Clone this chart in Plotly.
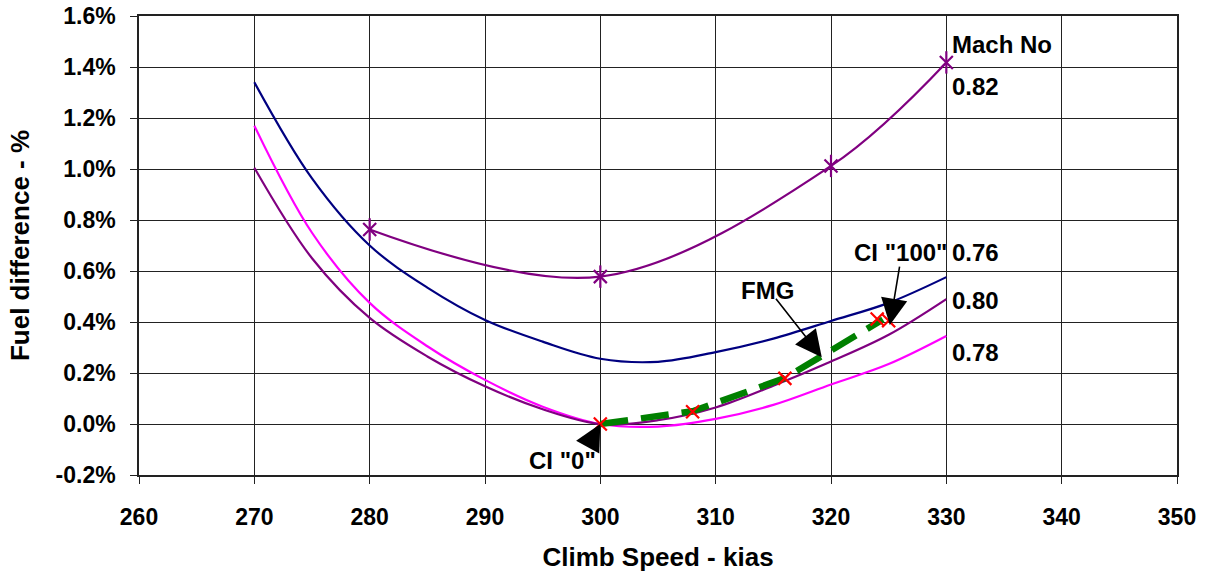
import plotly.graph_objects as go

# ---- data ----
speed = [270, 275, 280, 285, 290, 295, 300, 305, 310, 315, 320, 325, 330]
mach_076 = [1.34, 0.963, 0.70, 0.535, 0.408, 0.323, 0.256, 0.244, 0.282, 0.335, 0.404, 0.475, 0.576]
mach_078 = [1.17, 0.75, 0.475, 0.305, 0.173, 0.068, 0.0, -0.01, 0.02, 0.075, 0.155, 0.235, 0.345]
mach_080 = [1.005, 0.65, 0.416, 0.265, 0.148, 0.058, 0.0, 0.015, 0.065, 0.15, 0.245, 0.35, 0.49]

speed_082 = [280, 300, 320, 330]
mach_082 = [0.763, 0.578, 1.012, 1.418]

fmg_speed = [300, 308, 316, 324.5]
fmg_fuel = [0.0, 0.05, 0.18, 0.41]

ci_speed = [300, 308, 316, 324, 325]
ci_fuel = [0.0, 0.048, 0.179, 0.412, 0.405]

x_ticks = [260, 270, 280, 290, 300, 310, 320, 330, 340, 350]
y_ticks = [-0.2, 0.0, 0.2, 0.4, 0.6, 0.8, 1.0, 1.2, 1.4, 1.6]
y_tick_text = ["-0.2%", "0.0%", "0.2%", "0.4%", "0.6%", "0.8%", "1.0%", "1.2%", "1.4%", "1.6%"]

FONT = "Arial, Liberation Sans, sans-serif"
NAVY, MAGENTA, PURPLE, GREEN, RED = "#000080", "#FF00FF", "#800080", "#008000", "#FF0000"

fig = go.Figure()

fig.add_trace(go.Scatter(x=speed, y=mach_076, mode="lines",
                         line=dict(color=NAVY, width=2.2, shape="spline", smoothing=1.0)))
fig.add_trace(go.Scatter(x=speed, y=mach_078, mode="lines",
                         line=dict(color=MAGENTA, width=2.2, shape="spline", smoothing=1.0)))
fig.add_trace(go.Scatter(x=speed, y=mach_080, mode="lines",
                         line=dict(color=PURPLE, width=2.2, shape="spline", smoothing=1.0)))
fig.add_trace(go.Scatter(x=speed_082, y=mach_082, mode="lines+markers",
                         line=dict(color=PURPLE, width=2.2, shape="spline", smoothing=1.0),
                         marker=dict(symbol="x-thin", size=13, line=dict(color=PURPLE, width=2.2))))
fig.add_trace(go.Scatter(x=speed_082, y=mach_082, mode="markers",
                         marker=dict(symbol="line-ns", size=16, line=dict(color=PURPLE, width=2.2))))
fig.add_trace(go.Scatter(x=fmg_speed, y=fmg_fuel, mode="lines",
                         line=dict(color=GREEN, width=6.5, dash="28px,13px")))
fig.add_trace(go.Scatter(x=ci_speed, y=ci_fuel, mode="markers",
                         marker=dict(symbol="x-thin", size=13, line=dict(color=RED, width=2.2))))

# text labels
txt = dict(font=dict(family=FONT, size=24, color="black"), showarrow=False, xref="x", yref="y")
labels = [
    (330.3, 1.49, "<b>Mach No</b>", "left"),
    (330.3, 1.325, "<b>0.82</b>", "left"),
    (330.3, 0.673, "<b>0.76</b>", "left"),
    (330.3, 0.485, "<b>0.80</b>", "left"),
    (330.3, 0.282, "<b>0.78</b>", "left"),
    (326.0, 0.672, "<b>CI \"100\"</b>", "center"),
    (314.5, 0.523, "<b>FMG</b>", "center"),
    (296.7, -0.143, "<b>CI \"0\"</b>", "center"),
]
for x, y, t, al in labels:
    fig.add_annotation(x=x, y=y, text=t, xanchor=al, **txt)

# arrows: tip (x,y) with tail offset in pixels
arrows = [
    (300.0, 0.0, -12, 22),
    (319.2, 0.262, -47, -60),
    (325.1, 0.388, 10, -60),
]
for x, y, axp, ayp in arrows:
    fig.add_annotation(x=x, y=y, ax=axp, ay=ayp, text="", showarrow=True,
                       arrowhead=2, arrowsize=3.3, arrowwidth=1.6, arrowcolor="black",
                       xref="x", yref="y")

axis_common = dict(showgrid=True, gridcolor="#222222", gridwidth=1,
                   showline=True, linecolor="#222222", linewidth=1.5, mirror=True,
                   ticks="outside", ticklen=7, tickcolor="#222222", zeroline=False,
                   tickfont=dict(family=FONT, size=23, color="black"))

fig.update_xaxes(range=[260, 350], tickvals=x_ticks,
                 ticktext=[f"<b>{v}</b>" for v in x_ticks],
                 title=dict(text="<b>Climb Speed - kias</b>", font=dict(family=FONT, size=26, color="black"),
                            standoff=18),
                 ticklabelstandoff=14, **axis_common)
fig.update_yaxes(range=[-0.2, 1.6], tickvals=y_ticks,
                 ticktext=[f"<b>{v}</b>" for v in y_tick_text],
                 title=dict(text="<b>Fuel difference - %</b>", font=dict(family=FONT, size=26, color="black"),
                            standoff=18),
                 ticklabelstandoff=10, **axis_common)

fig.update_layout(width=1213, height=573, showlegend=False,
                  margin=dict(l=139, r=36, t=16, b=98, autoexpand=False),
                  plot_bgcolor="white", paper_bgcolor="white")

fig.write_html("out.html", config={"displayModeBar": False},
               post_script="document.body.style.margin='0';document.body.style.overflow='hidden';")
